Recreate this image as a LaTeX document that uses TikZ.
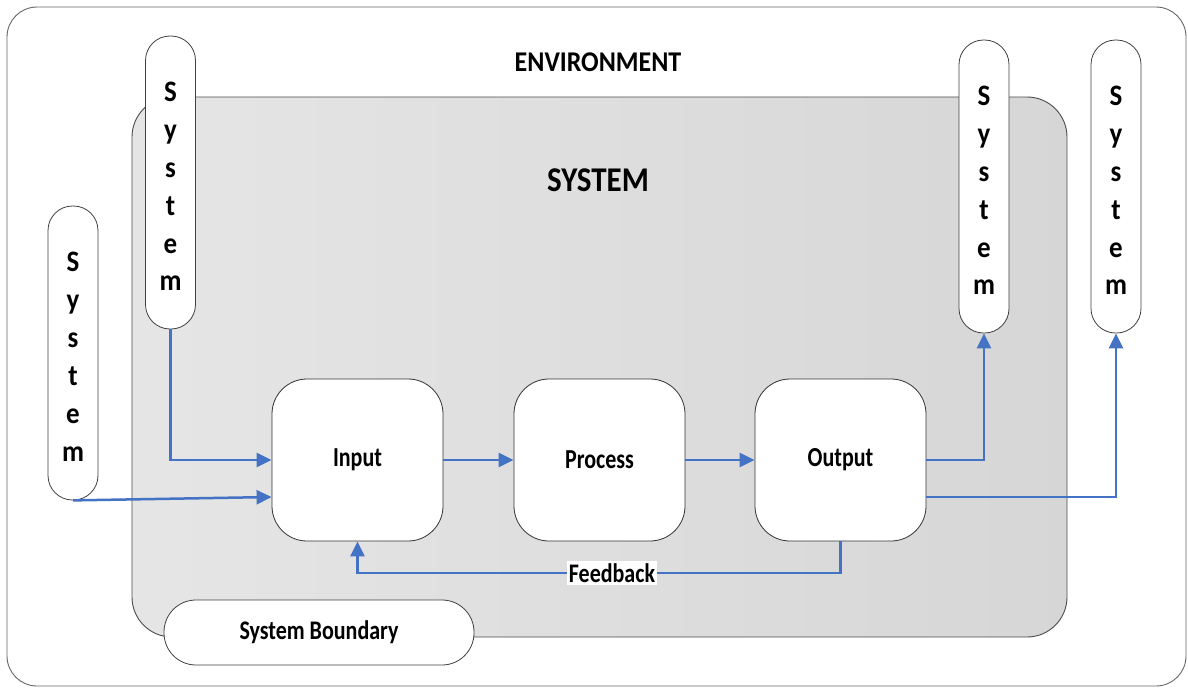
\documentclass[tikz,border=0pt]{standalone}
\usepackage{fontspec}
\usepackage{graphicx}
\setmainfont{Carlito}
\usetikzlibrary{arrows.meta,calc}
\definecolor{flowblue}{HTML}{4472C4}
\newcommand\tallt[2]{\scalebox{1}[#1]{#2}}
\newcommand\vword{\scalebox{1}[1.1]{\renewcommand\arraystretch{1}\begin{tabular}{@{}c@{}}S\\y\\s\\t\\e\\m\end{tabular}}}
\tikzset{
  pill/.style={draw=black!75, fill=white, rounded corners=24.5pt, minimum width=50pt, line width=0.8pt, inner sep=0pt},
  pilltext/.style={inner sep=0pt, font=\bfseries\fontsize{27}{34.5}\selectfont},
  procbox/.style={draw=black!80, fill=white, rounded corners=35pt, minimum width=171pt, minimum height=162pt, line width=0.8pt, font=\bfseries\fontsize{22}{26}\selectfont},
  flow/.style={draw=flowblue, line width=2.5pt, -{Triangle[length=15pt,width=14pt]}},
  flowline/.style={draw=flowblue, line width=2.5pt},
  fblabel/.style={fill=white, inner sep=2pt, font=\bfseries\fontsize{22}{26}\selectfont},
  title/.style={font=\bfseries\fontsize{#1}{#1}\selectfont}
}
\begin{document}
\begin{tikzpicture}[x=1pt,y=-1pt]
\useasboundingbox (0,0) rectangle (1188,688);
% environment
\draw[draw=black!60, line width=0.9pt, rounded corners=30pt, fill=white] (7,7) rectangle (1186,686);
% system region
\draw[draw=black!70, line width=0.9pt, rounded corners=40pt, left color=black!10, right color=black!16] (132,97) rectangle (1067,637);
\node[title=26] (env) at (598,62) {\tallt{1.1}{ENVIRONMENT}};
\node[title=31] (sys) at (598,180) {\tallt{1.12}{SYSTEM}};
% systems
\node[pill, minimum height=293pt] (s1) at (170.5,182.5) {};
\node[pill, minimum height=294pt] (s2) at (73,353) {};
\node[pill, minimum height=293pt] (s3) at (984,186.5) {};
\node[pill, minimum height=293pt] (s4) at (1116,186.5) {};
\node[pilltext] (s1t) at ($(s1.center)+(0,6)$) {\vword};
\node[pilltext] (s2t) at ($(s2.center)+(0,6)$) {\vword};
\node[pilltext] (s3t) at ($(s3.center)+(0,6)$) {\vword};
\node[pilltext] (s4t) at ($(s4.center)+(0,6)$) {\vword};
% process boxes
\node[procbox] (in) at (357.5,460) {\tallt{1.25}{Input}};
\node[procbox] (pr) at (599.5,460) {\tallt{1.25}{Process}};
\node[procbox] (out) at (840.5,460) {\tallt{1.25}{Output}};
% boundary
\node[draw=black!75, fill=white, line width=0.8pt, rounded corners=32pt, minimum width=310pt, minimum height=65pt, font=\bfseries\fontsize{22}{26}\selectfont] (bd) at (319,632.5) {\tallt{1.22}{System Boundary}};
% flows
\draw[flow] (s1.south) |- (in.west);
\draw[flow] (s2.south) -- ($(in.west)+(0,37)$);
\draw[flow] (in.east) -- (pr.west);
\draw[flow] (pr.east) -- (out.west);
\draw[flow] (out.east) -| (s3.south);
\draw[flow] ($(out.east)+(0,37)$) -| (s4.south);
\node[fblabel] (fb) at (612,573) {\tallt{1.22}{Feedback}};
\draw[flowline] (out.south) |- (fb.east);
\draw[flow] (fb.west) -| (in.south);
\end{tikzpicture}
\end{document}
